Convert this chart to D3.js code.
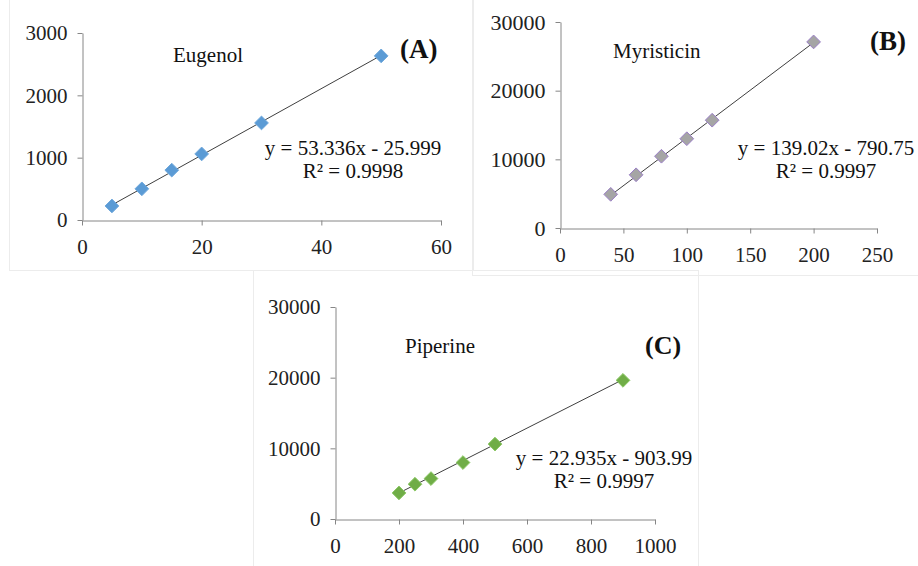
<!DOCTYPE html>
<html>
<head>
<meta charset="utf-8">
<script src="https://cdn.jsdelivr.net/npm/d3@7"></script>
<style>
  body { margin: 0; background: #fff; }
  svg { display: block; }
  .tick text { font-family: "Liberation Serif", "Times New Roman", serif; fill: #222; }
  .domain, .tick line { stroke: #868686; }
</style>
</head>
<body>
<div id="chart"></div>
<script>
// data
const eugenolX = [5, 10, 15, 20, 30, 50];
const eugenolY = [225, 500, 800, 1060, 1557, 2633];
const myristicinX = [40, 60, 80, 100, 120, 200];
const myristicinY = [4900, 7750, 10450, 13000, 15700, 27100];
const piperineX = [200, 250, 300, 400, 500, 900];
const piperineY = [3690, 4920, 5720, 7990, 10600, 19620];

const slopes = [53.336, 139.02, 22.935];
const intercepts = [-25.999, -790.75, -903.99];
const equations = ["y = 53.336x - 25.999", "y = 139.02x - 790.75", "y = 22.935x - 903.99"];
const rSquared = ["R² = 0.9998", "R² = 0.9997", "R² = 0.9997"];
const names = ["Eugenol", "Myristicin", "Piperine"];
const tags = ["(A)", "(B)", "(C)"];

const xTicks = [[0, 20, 40, 60], [0, 50, 100, 150, 200, 250], [0, 200, 400, 600, 800, 1000]];
const yTicks = [[0, 1000, 2000, 3000], [0, 10000, 20000, 30000], [0, 10000, 20000, 30000]];

const W = 918, H = 566;
const serif = '"Liberation Serif", "Times New Roman", serif';
const fmt = d3.format("d");

let svg = d3.select("#chart")
    .append("svg")
    .attr("width", W)
    .attr("height", H);

// light frames around each panel
let frames = [[9, -1, 464, 271], [472, -1, 447, 276], [253, 270, 445, 297]];
frames.forEach(function(f) {
    svg.append("rect")
        .attr("x", f[0] + 0.5).attr("y", f[1] + 0.5)
        .attr("width", f[2]).attr("height", f[3])
        .attr("fill", "none")
        .attr("stroke", "#ececec");
});

let panels = [
    {x: eugenolX, y: eugenolY, left: 82, right: 441, top: 33, bottom: 220,
     fill: "#5b9bd5", stroke: "#6fa8dc", yFont: 21,
     name: [173, 62], tag: [400, 58, 27], eq: [353, 155]},
    {x: myristicinX, y: myristicinY, left: 560, right: 877, top: 22, bottom: 228,
     fill: "#a5a5a5", stroke: "#9b7fc7", yFont: 22,
     name: [613, 58], tag: [870, 50, 27], eq: [826, 155]},
    {x: piperineX, y: piperineY, left: 335, right: 655, top: 307, bottom: 519,
     fill: "#70ad47", stroke: "#8cc866", yFont: 21,
     name: [405, 353], tag: [645, 354, 26], eq: [604, 465]}
];

panels.forEach(function(p, i) {
    let xt = xTicks[i], yt = yTicks[i];

    let x = d3.scaleLinear()
        .domain([xt[0], xt[xt.length - 1]])
        .range([p.left, p.right]);

    let y = d3.scaleLinear()
        .domain([yt[0], yt[yt.length - 1]])
        .range([p.bottom, p.top]);

    let g = svg.append("g");

    g.append("g")
        .attr("transform", `translate(${p.left + 0.5},0)`)
        .call(d3.axisLeft(y).tickValues(yt).tickFormat(fmt).tickSize(5).tickSizeOuter(0).tickPadding(10))
        .call(a => a.selectAll("text").style("font-size", p.yFont + "px"));

    g.append("g")
        .attr("transform", `translate(0,${p.bottom + 0.5})`)
        .call(d3.axisBottom(x).tickValues(xt).tickFormat(fmt).tickSize(5).tickSizeOuter(0).tickPadding(14))
        .call(a => a.selectAll("text").style("font-size", "21px"));

    // trendline from the fitted equation
    let x0 = d3.min(p.x), x1 = d3.max(p.x);
    g.append("line")
        .attr("x1", x(x0)).attr("y1", y(slopes[i] * x0 + intercepts[i]))
        .attr("x2", x(x1)).attr("y2", y(slopes[i] * x1 + intercepts[i]))
        .attr("stroke", "#3f3f3f")
        .attr("stroke-width", 1);

    let pts = p.x.map(function(v, k) { return {x: v, y: p.y[k]}; });
    g.selectAll("path.pt").data(pts)
        .enter()
        .append("path")
        .attr("class", "pt")
        .attr("d", d3.symbol().type(d3.symbolDiamond2).size(120))
        .attr("transform", function(d) { return `translate(${x(d.x)},${y(d.y)})`; })
        .attr("fill", p.fill)
        .attr("stroke", p.stroke)
        .attr("stroke-width", 1);

    g.append("text")
        .attr("x", p.name[0]).attr("y", p.name[1])
        .style("font-family", serif)
        .style("font-size", "21px")
        .attr("fill", "#111")
        .text(names[i]);

    g.append("text")
        .attr("x", p.tag[0]).attr("y", p.tag[1])
        .style("font-family", serif)
        .style("font-size", p.tag[2] + "px")
        .style("font-weight", "bold")
        .attr("fill", "#111")
        .text(tags[i]);

    g.append("text")
        .attr("x", p.eq[0]).attr("y", p.eq[1])
        .style("font-family", serif)
        .style("font-size", "21px")
        .style("text-anchor", "middle")
        .attr("fill", "#111")
        .text(equations[i]);

    g.append("text")
        .attr("x", p.eq[0]).attr("y", p.eq[1] + 23)
        .style("font-family", serif)
        .style("font-size", "21px")
        .style("text-anchor", "middle")
        .attr("fill", "#111")
        .text(rSquared[i]);
});
</script>
</body>
</html>
